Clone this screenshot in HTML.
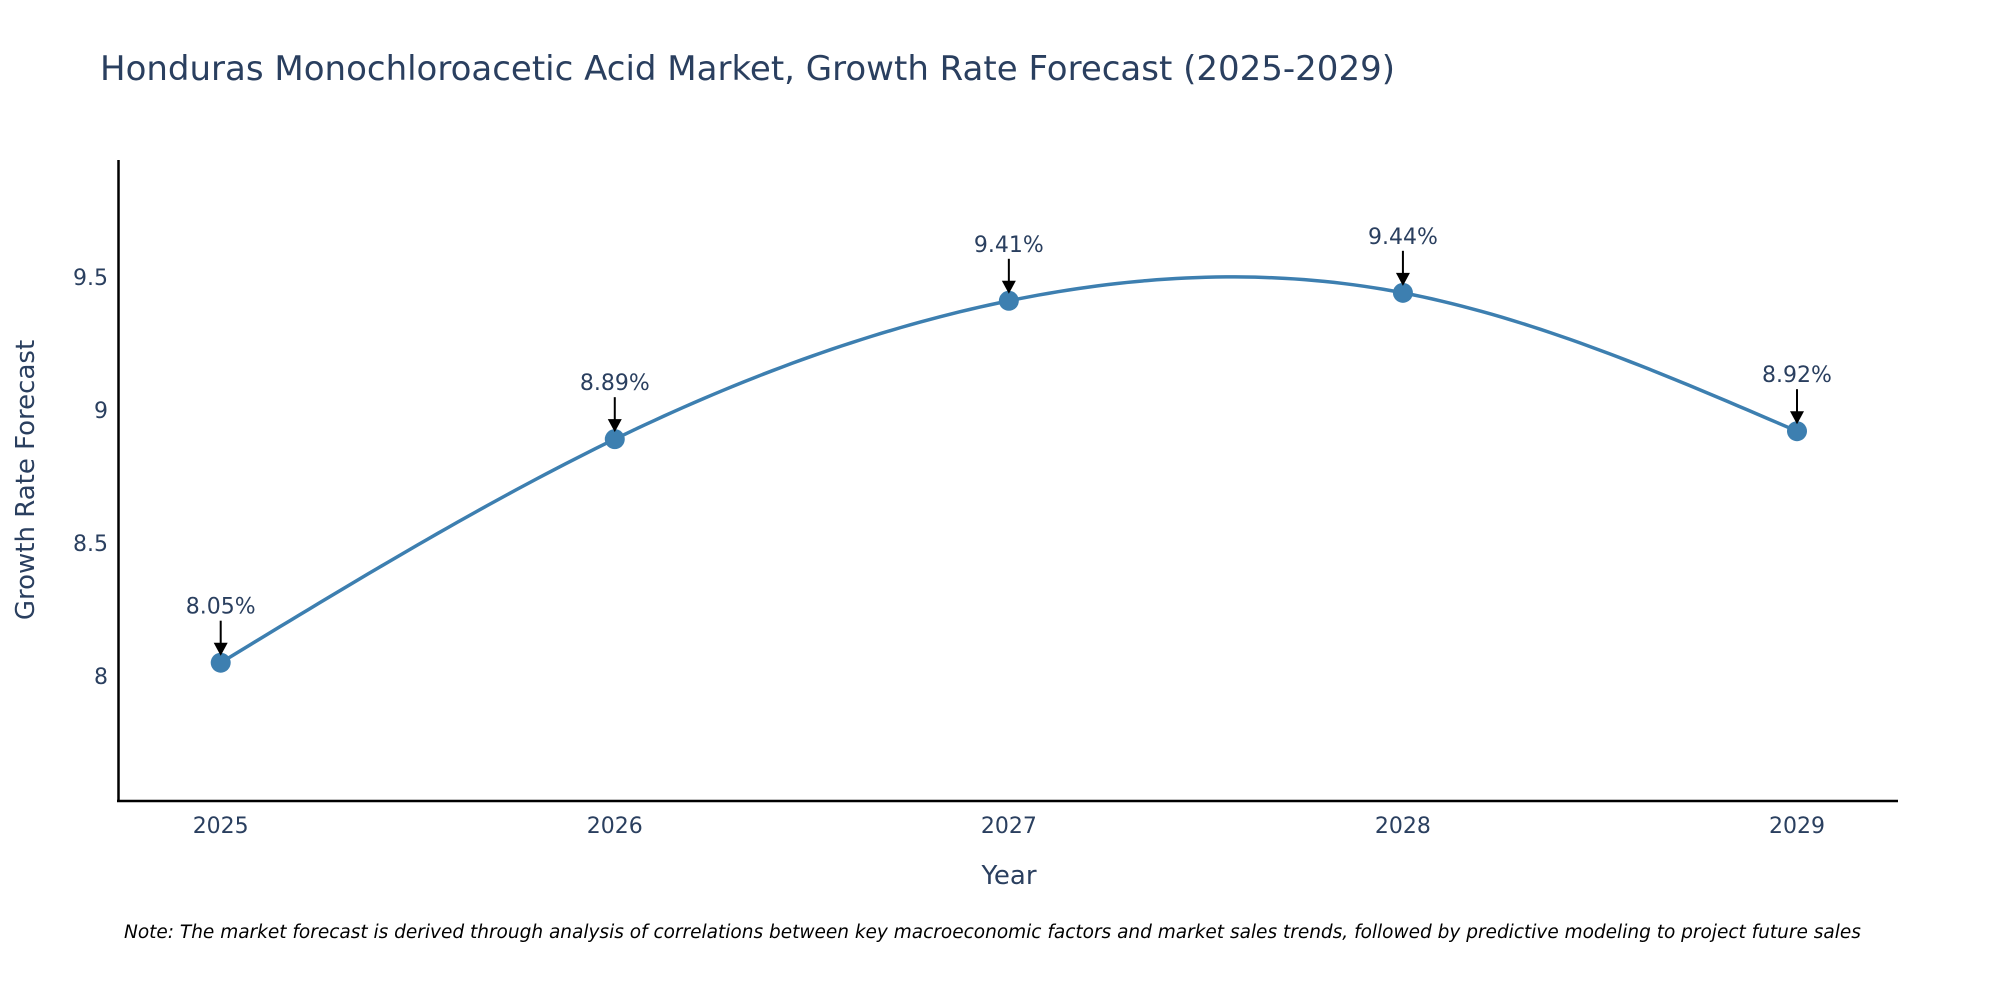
<!DOCTYPE html>
<html><head><meta charset="utf-8"><style>
body{margin:0;background:#fff;}
svg{display:block;font-family:"DejaVu Sans","Liberation Sans",sans-serif;}
</style></head><body>
<svg id="chart" width="2000" height="1000" viewBox="0 0 2000 1000">
<text x="100" y="80" font-size="34" fill="#2a3f5f">Honduras Monochloroacetic Acid Market, Growth Rate Forecast (2025-2029)</text>
<g id="grid"></g>
<path id="series" fill="none" stroke="#3d7fb0" stroke-width="3.5"></path>
<g id="marks"></g>
<line x1="118.5" y1="160" x2="118.5" y2="802" stroke="#000" stroke-width="2.5"/>
<line x1="117" y1="801" x2="1898" y2="801" stroke="#000" stroke-width="2.5"/>
<text x="34" y="480" font-size="26" fill="#2a3f5f" text-anchor="middle" transform="rotate(-90 34 480)">Growth Rate Forecast</text>
<text x="1009" y="884" font-size="26" fill="#2a3f5f" text-anchor="middle">Year</text>
<text x="124" y="938" font-size="18.5" font-style="italic" fill="#000">Note: The market forecast is derived through analysis of correlations between key macroeconomic factors and market sales trends, followed by predictive modeling to project future sales</text>
</svg>
<script>
const years = [2025, 2026, 2027, 2028, 2029];
const growth = [8.05, 8.89, 9.41, 9.44, 8.92];
const labels = ["8.05%", "8.89%", "9.41%", "9.44%", "8.92%"];
const yTicks = [8, 8.5, 9, 9.5];
const yTickLabels = ["8", "8.5", "9", "9.5"];

const NS = "http://www.w3.org/2000/svg";
function xS(v){ return 220.7 + (v - 2025) * (1797 - 220.7) / 4; }
function yS(v){ return 676 - (v - 8) * 266.1; }
function mk(tag, attrs, parent){
  const e = document.createElementNS(NS, tag);
  for (const k in attrs) e.setAttribute(k, attrs[k]);
  parent.appendChild(e); return e;
}
const grid = document.getElementById('grid');
yTicks.forEach((t, i) => {
  const tx = mk('text', {x: 108, y: yS(t) + 8, 'font-size': 22, fill: '#2a3f5f', 'text-anchor': 'end'}, grid);
  
  
  tx.textContent = yTickLabels[i];
});
years.forEach(yr => {
  const tx = mk('text', {x: xS(yr), y: 833, 'font-size': 22, fill: '#2a3f5f', 'text-anchor': 'middle'}, grid);
  
  
  tx.textContent = String(yr);
});
// natural cubic spline
const n = years.length;
const xs = years.slice(), ys = growth.slice();
const h = [], al = [], l = [1], mu = [0], z = [0];
for (let i = 0; i < n - 1; i++) h.push(xs[i+1] - xs[i]);
for (let i = 1; i < n - 1; i++) al[i] = 3/h[i]*(ys[i+1]-ys[i]) - 3/h[i-1]*(ys[i]-ys[i-1]);
for (let i = 1; i < n - 1; i++) {
  l[i] = 2*(xs[i+1]-xs[i-1]) - h[i-1]*mu[i-1];
  mu[i] = h[i]/l[i];
  z[i] = (al[i] - h[i-1]*z[i-1])/l[i];
}
const c = new Array(n).fill(0), b = [], dd = [];
for (let j = n - 2; j >= 0; j--) {
  c[j] = (j === 0 ? 0 : z[j] - mu[j]*c[j+1]);
  b[j] = (ys[j+1]-ys[j])/h[j] - h[j]*(c[j+1]+2*c[j])/3;
  dd[j] = (c[j+1]-c[j])/(3*h[j]);
}
let d = '';
for (let j = 0; j < n - 1; j++) {
  for (let k = 0; k <= 40; k++) {
    const t = h[j]*k/40;
    const v = ys[j] + b[j]*t + c[j]*t*t + dd[j]*t*t*t;
    d += (d ? ' L' : 'M') + xS(xs[j]+t).toFixed(2) + ',' + yS(v).toFixed(2);
  }
}
document.getElementById('series').setAttribute('d', d);
const pts = years.map((yr, i) => [xS(yr), yS(growth[i])]);
const marks = document.getElementById('marks');
pts.forEach((p, i) => {
  const cc = mk('circle', {cx: p[0], cy: p[1], r: 10, fill: '#3d7fb0'}, marks);
  
  
  const ln = mk('line', {x1: p[0], y1: p[1] - 42, x2: p[0], y2: p[1] - 18, stroke: '#000', 'stroke-width': 2}, marks);
  
  
  const hd = mk('path', {d: `M${p[0]-7},${p[1]-20} L${p[0]+7},${p[1]-20} L${p[0]},${p[1]-7} Z`, fill: '#000'}, marks);
  
  
  const tx = mk('text', {x: p[0], y: p[1] - 49, 'font-size': 22, fill: '#2a3f5f', 'text-anchor': 'middle'}, marks);
  
  
  tx.textContent = labels[i];
});
</script>
</body></html>
